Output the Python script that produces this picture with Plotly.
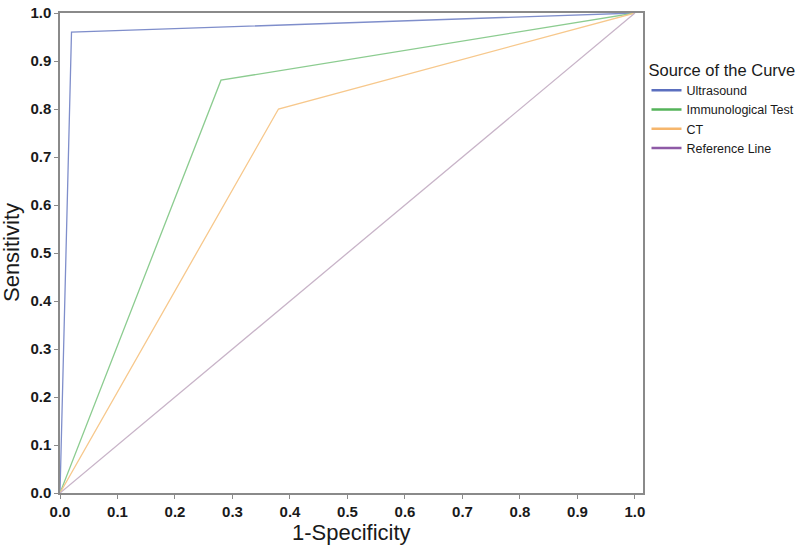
import plotly.graph_objects as go

# Data
fpr_ultrasound = [0.0, 0.02, 1.0]
tpr_ultrasound = [0.0, 0.96, 1.0]
fpr_immuno = [0.0, 0.28, 1.0]
tpr_immuno = [0.0, 0.86, 1.0]
fpr_ct = [0.0, 0.38, 1.0]
tpr_ct = [0.0, 0.80, 1.0]
fpr_ref = [0.0, 1.0]
tpr_ref = [0.0, 1.0]

series_names = ["Ultrasound", "Immunological Test", "CT", "Reference Line"]
tick_vals = [0.0, 0.1, 0.2, 0.3, 0.4, 0.5, 0.6, 0.7, 0.8, 0.9, 1.0]
tick_text = ["0.0", "0.1", "0.2", "0.3", "0.4", "0.5", "0.6", "0.7", "0.8", "0.9", "1.0"]
x_title = "1-Specificity"
y_title = "Sensitivity"
legend_title = "Source of the Curve"

line_colors = ["#7f8ecb", "#8ccc90", "#f7c88c", "#c8b4c8"]
legend_colors = ["#5b6fbf", "#55b35a", "#f6b66c", "#8e5aa6"]

series = [
    (fpr_ultrasound, tpr_ultrasound),
    (fpr_immuno, tpr_immuno),
    (fpr_ct, tpr_ct),
    (fpr_ref, tpr_ref),
]

fig = go.Figure()
for (x, y), name, c in zip(series, series_names, line_colors):
    fig.add_trace(go.Scatter(x=x, y=y, mode="lines", name=name,
                             line=dict(color=c, width=1.3),
                             showlegend=False, cliponaxis=False))
for name, c in zip(series_names, legend_colors):
    fig.add_trace(go.Scatter(x=[None], y=[None], mode="lines", name=name,
                             line=dict(color=c, width=2.5), showlegend=True))

tickfont = dict(family="Liberation Sans, Arial", size=15, color="#1a1a1a", weight="bold")
axis_common = dict(
    showline=True, linecolor="#8a8a8a", linewidth=1.5, mirror=True,
    ticks="outside", ticklen=4, tickcolor="#8a8a8a", tickwidth=1.2,
    showgrid=False, zeroline=False,
    tickvals=tick_vals, ticktext=tick_text,
    tickfont=tickfont, automargin=False,
)

fig.update_layout(
    width=800, height=546,
    margin=dict(l=60, r=157, t=13, b=53, autoexpand=False),
    paper_bgcolor="white", plot_bgcolor="white",
    font=dict(family="Liberation Sans, Arial", color="#1a1a1a"),
    xaxis=dict(range=[0, 1.014], **axis_common),
    yaxis=dict(range=[0, 1.0], **axis_common),
    legend=dict(
        title=dict(text=legend_title, font=dict(size=16.5, color="#1a1a1a")),
        font=dict(size=12.5, color="#1a1a1a"),
        x=1.006, xanchor="left", y=0.914, yanchor="top",
        bgcolor="rgba(0,0,0,0)", tracegroupgap=0, itemwidth=30,
    ),
    annotations=[
        dict(text=x_title, xref="paper", yref="paper", x=0.5, y=-0.083,
             xanchor="center", yanchor="middle", showarrow=False,
             font=dict(size=22, color="#1a1a1a")),
        dict(text=y_title, xref="paper", yref="paper", x=-0.084, y=0.5,
             xanchor="center", yanchor="middle", showarrow=False, textangle=-90,
             font=dict(size=22, color="#1a1a1a")),
    ],
)

fig.write_html("out.html",
               config={"displayModeBar": False},
               post_script="document.body.style.margin='0';document.body.style.overflow='hidden';")
